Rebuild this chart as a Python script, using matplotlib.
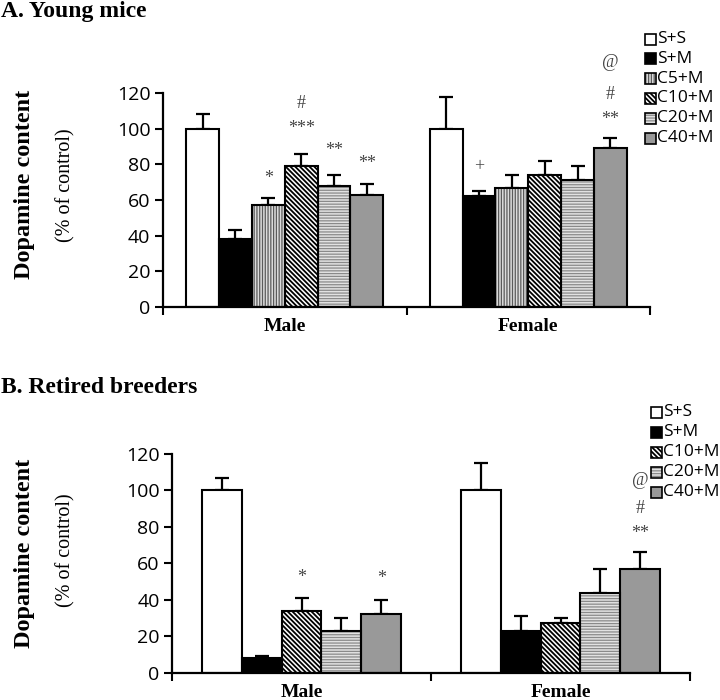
import numpy as np
import matplotlib
matplotlib.use("Agg")
import matplotlib.pyplot as plt
from matplotlib.patches import Rectangle

plt.rcParams['hatch.linewidth'] = 0.9

# ---------------- data ----------------
groups_A = ['S+S', 'S+M', 'C5+M', 'C10+M', 'C20+M', 'C40+M']
male_A = [100, 38, 57, 79, 68, 63]
male_A_sem = [8, 5, 4, 7, 6, 6]
female_A = [100, 62, 67, 74, 71, 89]
female_A_sem = [18, 3, 7, 8, 8, 6]

groups_B = ['S+S', 'S+M', 'C10+M', 'C20+M', 'C40+M']
male_B = [100, 8, 34, 23, 32]
male_B_sem = [7, 1, 7, 7, 8]
female_B = [100, 23, 27, 44, 57]
female_B_sem = [15, 8, 3, 13, 9]

sexes = ['Male', 'Female']
yticks = [0, 20, 40, 60, 80, 100, 120]

# significance marks: (sex index, group label, text, y)
marks_A = [(0, 'C5+M', '*', 72), (0, 'C10+M', '***', 100), (0, 'C10+M', '#', 114),
           (0, 'C20+M', '**', 88), (0, 'C40+M', '**', 80.5),
           (1, 'S+M', '+', 78.5), (1, 'C40+M', '**', 105), (1, 'C40+M', '#', 119),
           (1, 'C40+M', '@', 137)]
marks_B = [(0, 'C10+M', '*', 52.5), (0, 'C40+M', '*', 51.5),
           (1, 'C40+M', '**', 76.5), (1, 'C40+M', '#', 90), (1, 'C40+M', '@', 105.5)]

# ---------------- styles ----------------
STYLE = {
    'S+S': dict(fc='white', hatch=None, hc=None, hlw=0.9),
    'S+M': dict(fc='black', hatch=None, hc=None, hlw=0.9),
    'C5+M': dict(fc='#dcdcdc', hatch='|' * 6, hc='#5a5a5a', hlw=0.9),
    'C10+M': dict(fc='white', hatch='\\' * 7, hc='black', hlw=1.3),
    'C20+M': dict(fc='#e2e2e2', hatch='-' * 6, hc='#8a8a8a', hlw=0.9),
    'C40+M': dict(fc='#999999', hatch=None, hc=None, hlw=0.9),
}

SANS = 'Open Sans'
SERIF = 'Liberation Serif'

fig = plt.figure(figsize=(7.2, 7.0), dpi=100)
W, H = 720.0, 700.0


def panel(rect, groups, vals, sems, width, marks):
    l, t, r, b = rect
    ax = fig.add_axes([l / W, 1 - b / H, (r - l) / W, (b - t) / H])
    n = len(groups)
    centers = np.array([0.5, 1.5])
    for gi, g in enumerate(groups):
        st = STYLE[g]
        xs = centers + (gi - (n - 1) / 2) * width
        v = np.array([vals[0][gi], vals[1][gi]])
        e = np.array([sems[0][gi], sems[1][gi]])
        ax.errorbar(xs, v, yerr=[np.zeros(2), e], fmt='none', ecolor='black',
                    elinewidth=1.6, capsize=4.8, capthick=1.6, zorder=1)
        ax.bar(xs, v, width, color=st['fc'], edgecolor='none', linewidth=0, zorder=2)
        if st['hatch']:
            with plt.rc_context({'hatch.linewidth': st['hlw']}):
                ax.bar(xs, v, width, facecolor='none', edgecolor=st['hc'],
                       hatch=st['hatch'], linewidth=0, zorder=3)
        ax.bar(xs, v, width, facecolor='none', edgecolor='black', linewidth=1.5, zorder=4)
    for si, g, txt, y in marks:
        gi = groups.index(g)
        x = centers[si] + (gi - (n - 1) / 2) * width
        ax.text(x, y, txt, ha='center', va='center', fontsize=13, family=SERIF,
                color='#444444', clip_on=False)
    ax.set_xlim(0, 2)
    ax.set_ylim(0, 120)
    ax.set_yticks(yticks)
    ax.set_yticklabels([str(t) for t in yticks], fontsize=14, family=SANS)
    ax.set_xticks([0, 1, 2])
    ax.set_xticklabels([])
    ax.tick_params(axis='both', direction='out', length=6, width=1.5, pad=3)
    for s in ['top', 'right']:
        ax.spines[s].set_visible(False)
    for s in ['left', 'bottom']:
        ax.spines[s].set_linewidth(1.6)
    for si, sx in enumerate(sexes):
        ax.text(centers[si], -24 / (b - t), sx, transform=ax.get_xaxis_transform(),
                ha='center', va='baseline', fontsize=14, fontweight='bold', family=SERIF)
    return ax


def legend(x0, y0, dy, labels):
    for i, g in enumerate(labels):
        st = STYLE[g]
        yc = y0 + i * dy
        sz = 11
        xy = (x0 / W, 1 - (yc + sz / 2) / H)
        fig.add_artist(Rectangle(xy, sz / W, sz / H, transform=fig.transFigure,
                                 facecolor=st['fc'], edgecolor='none', linewidth=0))
        if st['hatch']:
            with plt.rc_context({'hatch.linewidth': st['hlw']}):
                fig.add_artist(Rectangle(xy, sz / W, sz / H, transform=fig.transFigure,
                                         facecolor='none', edgecolor=st['hc'], linewidth=0,
                                         hatch=st['hatch']))
        fig.add_artist(Rectangle(xy, sz / W, sz / H, transform=fig.transFigure,
                                 facecolor='none', edgecolor='black', linewidth=1.2))
        fig.text((x0 + sz + 1) / W, 1 - yc / H, g, fontsize=12.5, family=SANS,
                 va='center', ha='left')


axA = panel((163, 93, 650, 307), groups_A, [male_A, female_A], [male_A_sem, female_A_sem],
            0.135, marks_A)
axB = panel((172, 454, 690, 672.7), groups_B, [male_B, female_B], [male_B_sem, female_B_sem],
            0.154, marks_B)

legend(645, 39, 19.8, groups_A)
legend(651, 412, 20, groups_B)

fig.text(0.002, 1 - 17 / H, 'A. Young mice', fontsize=17, fontweight='bold', family=SERIF,
         va='baseline', ha='left')
fig.text(0.002, 1 - 393 / H, 'B. Retired breeders', fontsize=17, fontweight='bold',
         family=SERIF, va='baseline', ha='left')

for yc1, yc2 in [(184, 185), (553, 550)]:
    fig.text(25 / W, 1 - yc1 / H, 'Dopamine content', rotation=90, fontsize=17.5,
             fontweight='bold', family=SERIF, ha='center', va='center')
    fig.text(66 / W, 1 - yc2 / H, '(% of control)', rotation=90, fontsize=14.5,
             family=SERIF, ha='center', va='center')

fig.savefig('out.png', dpi=100)
